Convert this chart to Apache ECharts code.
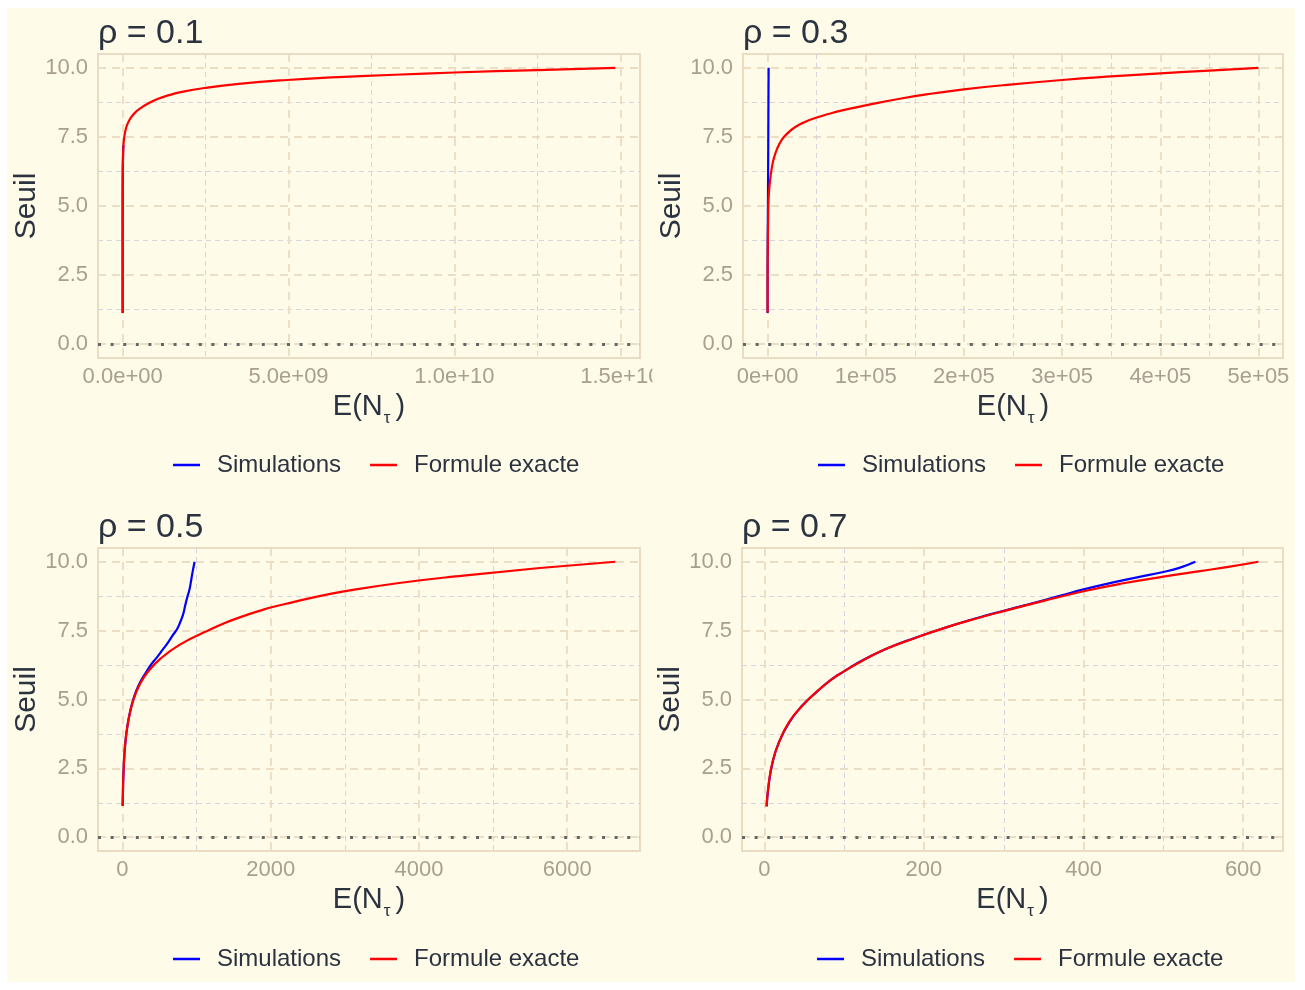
<!DOCTYPE html>
<html>
<head>
<meta charset="utf-8">
<title>Seuil en fonction de E(N_tau)</title>
<script src="https://cdn.jsdelivr.net/npm/echarts@6.0.0/dist/echarts.min.js"></script>
<style>
  html, body { margin: 0; padding: 0; background: #ffffff; }
  #frame { position: absolute; left: 7px; top: 8px; width: 1288px; height: 974px; background: #fefbe8; }
  #chart { position: absolute; left: 0; top: 0; width: 1305px; height: 990px; }
</style>
</head>
<body>
<div id="frame"></div>
<div id="chart"></div>
<script>
// valeurs : [E(N_tau), seuil]
const rhoValues = ['0.1', '0.3', '0.5', '0.7'];

const exact01 = [[2, 1.13], [40, 2], [800, 3], [1.5e4, 4], [2.5e5, 5], [2.5e6, 6], [1.2e7, 6.8], [2.5e7, 7.2],
  [5e7, 7.5], [9e7, 7.76], [1.5e8, 7.98], [2.4e8, 8.18], [3.6e8, 8.36], [5.4e8, 8.54], [7.8e8, 8.72],
  [1.05e9, 8.87], [1.4e9, 9.01], [1.75e9, 9.12], [2.47e9, 9.27], [3.5e9, 9.42], [4.96e9, 9.56],
  [6.5e9, 9.66], [8.2e9, 9.75], [1e10, 9.83], [1.25e10, 9.92], [1.485e10, 10]];
const sim01 = [[2, 1.13], [40, 2], [800, 3], [1.5e4, 4], [2.4e5, 5], [2.4e6, 6], [1.1e7, 6.8], [2.2e7, 7.2]];

const exact03 = [[3, 1.14], [20, 2], [90, 3], [300, 3.8], [600, 4.5], [1000, 5.2], [1800, 5.65], [2700, 5.96],
  [4000, 6.3], [6100, 6.68], [9500, 7.05], [14600, 7.4], [20000, 7.62], [28300, 7.86], [38000, 8.04],
  [50000, 8.2], [63000, 8.34], [76000, 8.46], [1e5, 8.64], [1.375e5, 8.9], [1.7e5, 9.08], [2e5, 9.22],
  [2.4e5, 9.37], [3e5, 9.56], [3.5e5, 9.69], [4e5, 9.8], [4.5e5, 9.9], [5e5, 10]];
const sim03 = [[3, 1.13], [20, 2], [80, 3], [200, 4], [400, 5], [550, 6], [700, 7], [820, 8], [950, 9], [1100, 10]];

const exact05 = [[2, 1.13], [5, 1.5], [9, 2], [16, 2.5], [26, 3], [41, 3.5], [65, 4], [100, 4.5], [150, 5],
  [225, 5.5], [340, 6], [520, 6.5], [780, 7], [1150, 7.5], [1600, 8], [2250, 8.5], [3150, 9], [4600, 9.5],
  [6650, 10]];
const sim05 = [[2, 1.13], [5, 1.5], [9, 2], [16, 2.5], [26, 3], [41, 3.5], [64, 4], [98, 4.5], [145, 5],
  [215, 5.5], [320, 6], [395, 6.3], [470, 6.55], [540, 6.8], [604, 7.03], [670, 7.3], [739, 7.57],
  [785, 7.85], [820, 8.11], [845, 8.4], [874, 8.71], [895, 8.9], [910, 9.07], [925, 9.3], [941, 9.56],
  [958, 9.8], [973, 10]];

const exact07 = [[2.9, 1.12], [5.4, 1.9], [10.4, 2.74], [18.75, 3.46], [31, 4.18], [48, 4.78], [64.6, 5.26],
  [85.4, 5.75], [99, 6.01], [123, 6.41], [152, 6.83], [185, 7.19], [227, 7.61], [269, 7.97], [300, 8.21],
  [350, 8.58], [400, 8.93], [450, 9.22], [500, 9.46], [546, 9.66], [585, 9.83], [619, 10]];
const sim07 = [[3, 1.12], [5.5, 1.9], [10.6, 2.74], [18.5, 3.46], [31.5, 4.18], [47.5, 4.78], [65, 5.26],
  [85, 5.75], [100, 6.02], [122, 6.41], [153, 6.84], [184, 7.19], [228, 7.62], [268, 7.97], [300, 8.22],
  [330, 8.45], [370, 8.76], [400, 9.0], [440, 9.27], [470, 9.45], [500, 9.63], [520, 9.78], [540, 10]];

// graduations
const yMajor = [0, 2.5, 5, 7.5, 10];
const yMinor = [1.25, 3.75, 6.25, 8.75];
const xMajor01 = [0, 5e9, 1e10, 1.5e10];
const xMinor01 = [2.5e9, 7.5e9, 1.25e10];
const xMajor03 = [0, 1e5, 2e5, 3e5, 4e5, 5e5];
const xMinor03 = [5e4, 1.5e5, 2.5e5, 3.5e5, 4.5e5];
const xMajor05 = [0, 2000, 4000, 6000];
const xMinor05 = [1000, 3000, 5000];
const xMajor07 = [0, 200, 400, 600];
const xMinor07 = [100, 300, 500];

const textDark = '#2c3340';
const tickGrey = '#a89f91';
const cream = '#fefbe8';
const font = 'Liberation Sans, Arial, sans-serif';

// format 0.0e+00
function sci(v, digits) {
  const s = v.toExponential(digits);
  return s.replace(/e([+-])(\d)$/, 'e$10$2');
}

const panels = [
  { sim: sim01, exact: exact01, xMajor: xMajor01, xMinor: xMinor01, fmt: v => sci(v, 1) },
  { sim: sim03, exact: exact03, xMajor: xMajor03, xMinor: xMinor03, fmt: v => sci(v, 0) },
  { sim: sim05, exact: exact05, xMajor: xMajor05, xMinor: xMinor05, fmt: v => String(v) },
  { sim: sim07, exact: exact07, xMajor: xMajor07, xMinor: xMinor07, fmt: v => String(v) },
];

const grids = [
  { left: 98, top: 54, width: 542, height: 304 },
  { left: 743, top: 54, width: 540, height: 304 },
  { left: 98, top: 548, width: 542, height: 303 },
  { left: 742, top: 548, width: 541, height: 303 },
];

// étendue façon ggplot (5 %)
function expand(lo, hi) {
  const pad = (hi - lo) * 0.05;
  return [lo - pad, hi + pad];
}

const xAxes = [];
const yAxes = [];
const series = [];
const titles = [];
const legends = [];

panels.forEach((p, i) => {
  const xs = p.sim.concat(p.exact).map(d => d[0]);
  const xr = expand(Math.min(...xs), Math.max(...xs));
  const yr = expand(0, 10);

  xAxes[i] = {
    type: 'value', gridIndex: i, min: xr[0], max: xr[1],
    name: '{n|E(N}{s|τ}{n|)}', nameLocation: 'middle', nameGap: 29,
    nameTextStyle: {
      rich: {
        n: { fontSize: 29, lineHeight: 40, color: textDark, fontFamily: font },
        s: { fontSize: 17, lineHeight: 17, color: textDark, fontFamily: font, verticalAlign: 'bottom', padding: [0, 5, 0, 1] },
      },
    },
    axisLine: { show: false },
    axisTick: { show: false, customValues: p.xMajor },
    axisLabel: { customValues: p.xMajor, formatter: p.fmt, color: tickGrey, fontSize: 22, fontFamily: font, margin: 8 },
    splitLine: { show: true, lineStyle: { color: '#ecdec4', width: 1.9, type: [8, 6] } },
  };
  xAxes[4 + i] = {
    type: 'value', gridIndex: i, min: xr[0], max: xr[1],
    axisLine: { show: false },
    axisTick: { show: false, customValues: p.xMinor },
    axisLabel: { show: false, customValues: p.xMinor },
    splitLine: { show: true, lineStyle: { color: '#d6d5db', width: 1, type: [5, 4] } },
  };
  yAxes[i] = {
    type: 'value', gridIndex: i, min: yr[0], max: yr[1],
    name: 'Seuil', nameLocation: 'middle', nameGap: 52,
    nameTextStyle: { fontSize: 30, color: textDark, fontFamily: font },
    axisLine: { show: false },
    axisTick: { show: false, customValues: yMajor },
    axisLabel: { customValues: yMajor, formatter: v => v.toFixed(1), color: tickGrey, fontSize: 22, fontFamily: font, margin: 10 },
    splitLine: { show: true, lineStyle: { color: '#ecdec4', width: 1.9, type: [8, 6] } },
  };
  yAxes[4 + i] = {
    type: 'value', gridIndex: i, min: yr[0], max: yr[1],
    axisLine: { show: false },
    axisTick: { show: false, customValues: yMinor },
    axisLabel: { show: false, customValues: yMinor },
    splitLine: { show: true, lineStyle: { color: '#d6d5db', width: 1, type: [5, 4] } },
  };

  series.push({
    name: 'Simulations', type: 'line', xAxisIndex: i, yAxisIndex: i,
    data: p.sim, showSymbol: false, smooth: 0.5, color: '#0000ff',
    lineStyle: { width: 2.2, color: '#0000ff' }, z: 3,
  });
  series.push({
    name: 'Formule exacte', type: 'line', xAxisIndex: i, yAxisIndex: i,
    data: p.exact, showSymbol: false, smooth: 0.5, color: '#ff0000',
    lineStyle: { width: 2.2, color: '#ff0000' }, z: 4,
    markLine: {
      silent: true, symbol: ['none', 'none'], label: { show: false },
      lineStyle: { color: '#666666', width: 3, type: [3, 9.6] },
      data: [{ yAxis: 0 }],
    },
  });

  const g = grids[i];
  titles.push({
    text: 'ρ = ' + rhoValues[i], left: g.left, top: g.top - 37, padding: 0,
    textStyle: { fontSize: 34, fontWeight: 'normal', color: textDark, fontFamily: font },
  });
  legends.push({
    left: g.left + 75, top: g.top + 399, padding: 0,
    icon: 'rect', itemWidth: 27, itemHeight: 2.5, itemGap: 29,
    data: ['Simulations', 'Formule exacte'], selectedMode: false,
    formatter: name => '{gap|}' + name,
    textStyle: { fontSize: 24, color: textDark, fontFamily: font, rich: { gap: { width: 12 } } },
  });
});

const option = {
  animation: false,
  backgroundColor: 'transparent',
  title: titles,
  legend: legends,
  grid: grids.map(g => Object.assign({ show: true, borderColor: '#eadcc2', borderWidth: 2 }, g)),
  xAxis: xAxes,
  yAxis: yAxes,
  series: series,
  graphic: [
    // l'étiquette 1.5e+10 est coupée au bord du panneau dans l'original
    { type: 'rect', shape: { x: 652.5, y: 362, width: 14, height: 34 }, style: { fill: cream }, z: 100 },
  ],
};

const chart = echarts.init(document.getElementById('chart'));
chart.setOption(option);
</script>
</body>
</html>
